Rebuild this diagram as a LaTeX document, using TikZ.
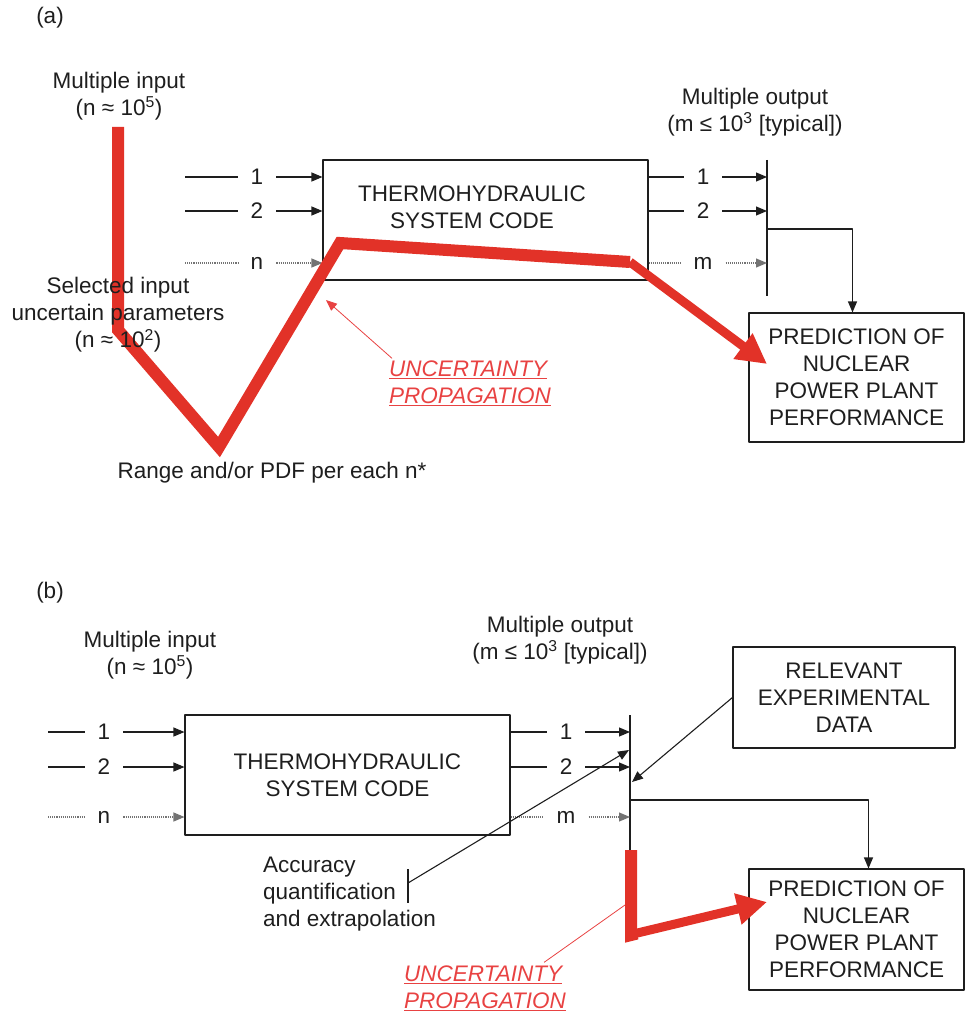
\documentclass[tikz,border=0pt]{standalone}
\usepackage{fontspec}
\setmainfont{Liberation Sans}
\usetikzlibrary{arrows.meta}
\definecolor{propred}{RGB}{226,50,40}
\definecolor{notered}{RGB}{232,66,66}
\definecolor{ink}{RGB}{30,30,30}

\begin{document}
\begin{tikzpicture}[x=1pt,y=-1pt,>={Triangle[length=11pt,width=9pt]},
	font=\fontsize{22.5}{27}\selectfont, line join=round, color=ink,
	box/.style={draw,line width=1.1pt,align=center,inner sep=0pt},
	txt/.style={align=center,inner sep=0pt},
	num/.style={inner xsep=13pt,inner ysep=0pt},
	flow/.style={line width=1.1pt},
	plain/.style={},
	dots/.style={densely dotted,black!55},
	prop/.style={propred,line width=12pt,line join=miter},
	proparrow/.style={propred,line width=9pt,-{Triangle[length=30pt,width=30pt]}},
	note/.style={notered,align=left,inner sep=0pt,font=\fontsize{22.5}{27}\selectfont\itshape}]
	\useasboundingbox (0,0) rectangle (966,1016);

	% ---------- (a) ----------
	\node[txt] (tagA) at (50,18) {(a)};
	\node[txt] (minA) at (119,96) {Multiple input\\(n ≈ 10\textsuperscript{5})};
	\node[box,minimum width=325,minimum height=120] (codeA) at (485.5,220) {};
	\node[txt] (codeAtxt) at (472,207) {THERMOHYDRAULIC\\SYSTEM CODE};
	\node[txt] (moutA) at (755,112) {Multiple output\\(m ≤ 10\textsuperscript{3} [typical])};
	\node[box,minimum width=215,minimum height=129] (predA) at (856.5,377.5) {PREDICTION OF\\NUCLEAR\\POWER PLANT\\PERFORMANCE};
	\coordinate (barAtop) at (767,160);
	\coordinate (barAbot) at (767,296);
	\coordinate (barAmid) at (767,229);
	\draw[flow] (barAtop) -- (barAbot);
	\foreach \k/\y/\sty in {1/177/plain,2/211/plain,n/263/dots} {
		\coordinate (ina\k) at (185,\y);
		\node[num] (ia\k) at (257,\y) {\k};
		\draw[flow,\sty] (ina\k) -- (ia\k);
		\draw[flow,\sty,->] (ia\k) -- (ia\k -| codeA.west);
	}
	\foreach \k/\y/\sty in {1/177/plain,2/211/plain,m/263/dots} {
		\node[num] (oa\k) at (703,\y) {\k};
		\draw[flow,\sty] (oa\k -| codeA.east) -- (oa\k);
		\draw[flow,\sty,->] (oa\k) -- (oa\k -| barAtop);
	}
	\draw[flow,->] (barAmid) -| ([xshift=-4pt]predA.north);

	% propagation path
	\coordinate (pa1) at (118,127);
	\coordinate (pa2) at (118,330);
	\coordinate (pa3) at (219,447);
	\coordinate (pa4) at (340,243);
	\coordinate (pa5) at (630,262);
	\coordinate (tipA) at (767,364);
	\draw[prop] (pa1) -- (pa2) -- (pa3) -- (pa4) -- (pa5);
	\draw[proparrow] (pa5) -- (tipA);

	\node[txt] (selA) at (118,315) {Selected input\\uncertain parameters\\(n ≈ 10\textsuperscript{2})};
	\node[txt] (rngA) at (272,473) {Range and/or PDF per each n*};
	\node[note,anchor=west] (uncA) at (389,383) {\underline{UNCERTAINTY}\\\underline{PROPAGATION}};
	\coordinate (hitA) at (326,300);
	\draw[notered,line width=0.8pt,->] ([xshift=3pt,yshift=2pt]uncA.north west) -- (hitA);

	% ---------- (b) ----------
	\node[txt] (tagB) at (50,593) {(b)};
	\node[txt] (minB) at (150,655) {Multiple input\\(n ≈ 10\textsuperscript{5})};
	\node[box,minimum width=325,minimum height=120] (codeB) at (347.5,775) {THERMOHYDRAULIC\\SYSTEM CODE};
	\node[txt] (moutB) at (560,640) {Multiple output\\(m ≤ 10\textsuperscript{3} [typical])};
	\node[box,minimum width=222,minimum height=101] (dataB) at (844,697.5) {RELEVANT\\EXPERIMENTAL\\DATA};
	\node[box,minimum width=215,minimum height=121] (predB) at (856.5,929.5) {PREDICTION OF\\NUCLEAR\\POWER PLANT\\PERFORMANCE};
	\coordinate (barBtop) at (630,715);
	\coordinate (barBbot) at (630,850);
	\coordinate (barBmid) at (630,800);
	\coordinate (barBdata) at (632,782);
	\coordinate (barBacc) at (629,750);
	\draw[flow] (barBtop) -- (barBbot);
	\foreach \k/\y/\sty in {1/732/plain,2/767/plain,n/817/dots} {
		\coordinate (inb\k) at (48,\y);
		\node[num] (ib\k) at (104,\y) {\k};
		\draw[flow,\sty] (inb\k) -- (ib\k);
		\draw[flow,\sty,->] (ib\k) -- (ib\k -| codeB.west);
	}
	\foreach \k/\y/\sty in {1/732/plain,2/767/plain,m/817/dots} {
		\node[num] (ob\k) at (566,\y) {\k};
		\draw[flow,\sty] (ob\k -| codeB.east) -- (ob\k);
		\draw[flow,\sty,->] (ob\k) -- (ob\k -| barBtop);
	}
	\draw[flow,->] (barBmid) -| ([xshift=12pt]predB.north);
	\draw[flow,->] (dataB.west) -- (barBdata);

	\node[txt,align=left,anchor=west] (accB) at (263,894) {Accuracy\\quantification\\and extrapolation};
	\coordinate (brkB1) at (408,869);
	\coordinate (brkB2) at (408,903);
	\coordinate (brkB) at (408,883);
	\draw[flow] (brkB1) -- (brkB2);
	\draw[flow,->] (brkB) -- (barBacc);

	\node[note,anchor=west] (uncB) at (404,988) {\underline{UNCERTAINTY}\\\underline{PROPAGATION}};
	\coordinate (hitB) at (625,905);
	\draw[notered,line width=0.8pt] ([xshift=-22pt,yshift=3pt]uncB.north east) -- (hitB);

	\coordinate (pb1) at (631,850);
	\coordinate (pb2) at (631,935);
	\coordinate (tipB) at (767,902);
	\draw[propred,line width=12pt,line join=miter] (pb1) -- (pb2) -- ++(6,-1.5);
	\draw[proparrow] ([xshift=-2pt]pb2) -- (tipB);
\end{tikzpicture}
\end{document}
